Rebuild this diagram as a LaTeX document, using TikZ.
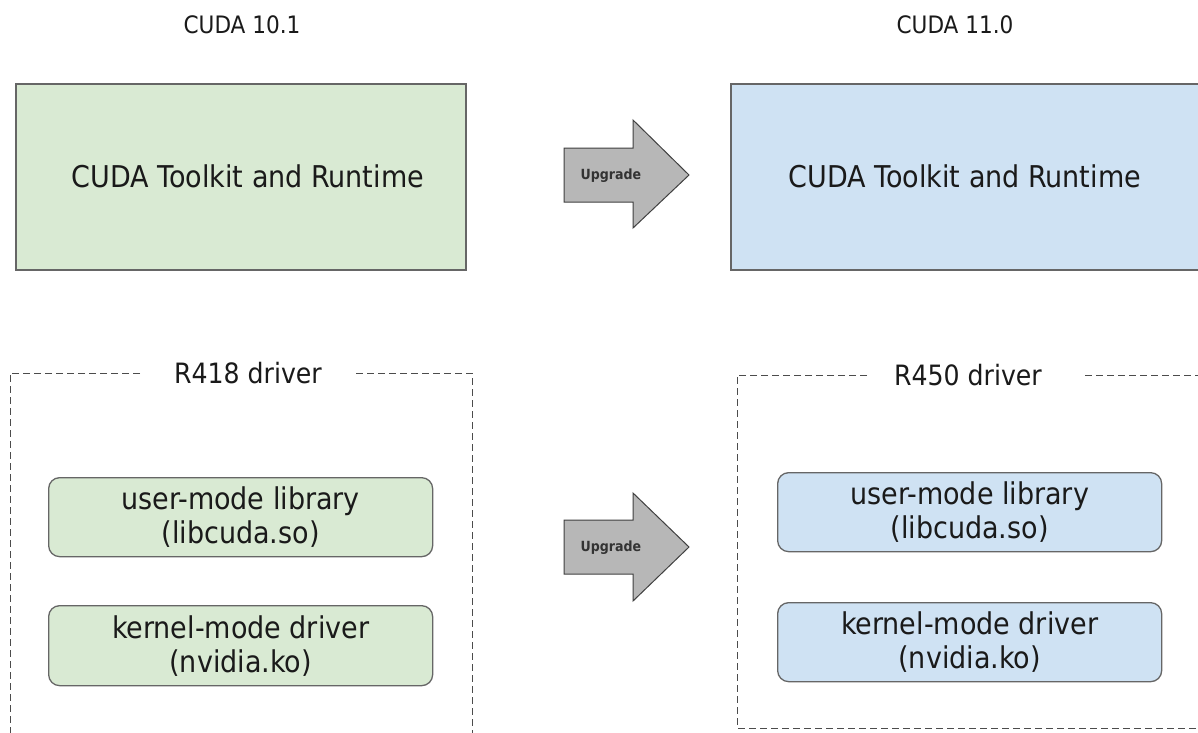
\documentclass[tikz,border=0pt]{standalone}
\usepackage{fontspec}
\setmainfont{DejaVu Sans Condensed}
\definecolor{gfill}{HTML}{D9EAD3}
\definecolor{bfill}{HTML}{CFE2F3}
\definecolor{edge}{HTML}{666666}
\definecolor{afill}{HTML}{B7B7B7}
\definecolor{txt}{HTML}{1A1A1A}
\begin{document}
\begin{tikzpicture}[x=1pt,y=-1pt,
  title/.style={font=\fontsize{24}{28}\selectfont, text=txt},
  bigbox/.style={draw=edge, line width=1.5pt, minimum width=450pt, minimum height=186pt, anchor=north west},
  bigtext/.style={font=\fontsize{30}{33}\selectfont, text=txt},
  libbox/.style={draw=edge, line width=1.3pt, rounded corners=11pt, minimum width=384pt, minimum height=79pt, anchor=north west, align=center, font=\fontsize{30}{34}\selectfont, text=txt},
  dashbox/.style={draw=black!70, line width=0.9pt, dash pattern=on 7pt off 4pt},
  drvlabel/.style={font=\fontsize{28}{30}\selectfont, text=txt},
  uparrow/.style={draw=black!75, line width=1pt, fill=afill},
  uplabel/.style={font=\bfseries\fontsize{14}{16}\selectfont, text=black!80}
]
\useasboundingbox (0,0) rectangle (1198,732);
\fill[white] (0,0) rectangle (1198,732);

% titles
\node[title] (t1) at (242,25) {CUDA 10.1};
\node[title] (t2) at (955,25) {CUDA 11.0};

% toolkit boxes
\node[bigbox, fill=gfill] (tk1) at (15,83) {};
\node[bigtext] (tk1t) at (248,176) {CUDA Toolkit and Runtime};
\node[bigbox, fill=bfill, minimum width=480pt] (tk2) at (730,83) {};
\node[bigtext] (tk2t) at (965,176) {CUDA Toolkit and Runtime};

% upgrade arrows
\draw[uparrow] (564,148) -- (633,148) -- (633,120) -- (689,175) -- (633,228) -- (633,202) -- (564,202) -- cycle;
\node[uplabel] (u1) at (611,176) {Upgrade};
\draw[uparrow] (564,520) -- (633,520) -- (633,493) -- (689,547) -- (633,601) -- (633,574) -- (564,574) -- cycle;
\node[uplabel] (u2) at (611,548) {Upgrade};

% driver dashed boxes
\node[drvlabel] (d1) at (248,373) {R418 driver};
\node[drvlabel] (d2) at (968,375) {R450 driver};
\draw[dashbox] (140,373) -- (10,373) -- (10,740);
\draw[dashbox] (356,373) -- (472,373) -- (472,740);
\draw[dashbox] (867,375) -- (737,375) -- (737,728) -- (1210,728);
\draw[dashbox] (1085,375) -- (1210,375);

% library boxes
\node[libbox, fill=gfill] (um1) at (48,477) {user-mode library\\(libcuda.so)};
\node[libbox, fill=gfill, minimum height=80pt] (km1) at (48,605) {kernel-mode driver\\(nvidia.ko)};
\node[libbox, fill=bfill] (um2) at (777,472) {user-mode library\\(libcuda.so)};
\node[libbox, fill=bfill] (km2) at (777,602) {kernel-mode driver\\(nvidia.ko)};
\end{tikzpicture}
\end{document}
